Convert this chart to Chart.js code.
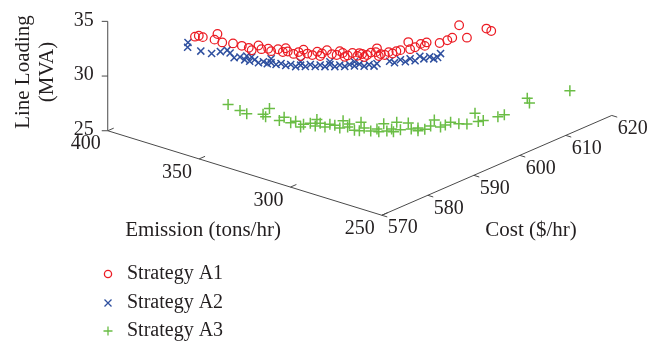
<!DOCTYPE html>
<html>
<head>
<meta charset="utf-8">
<script src="https://cdn.jsdelivr.net/npm/chart.js@4.4.1/dist/chart.umd.min.js"></script>
<style>
  body { margin: 0; background: #fff; }
  #caja { width: 653px; height: 347px; }
</style>
</head>
<body>
<div id="caja"><canvas id="grafica" width="653" height="347"></canvas></div>
<script>
// valores (emision ton/hr, costo $/hr, carga MVA)
var a1Emision = [372.4,370.3,368.1,362.6,364.2,362.5,356.6,354.3,350.5,347.7,346.1,344.9,343.3,339.5,339.4,336.7,333.5,333.3,330.6,328.5,328.3,325.6,323.0,322.8,320.1,317.5,316.7,314.0,313.9,311.2,311.1,308.4,306.3,305.5,306.1,303.4,301.2,301.6,299.5,297.4,297.7,293.4,292.4,292.2,291.6,289.4,288.4,283.8,282.1,279.4,284.7,276.4,273.8,271.9,337.8,348.9,318.3,310.1,332.2,324.0,315.6,310.0,304.5];
var a1Costo = [578,578,578,579,579,580,580,581,581,582,582,583,583,583,584,584,584,585,585,585,586,586,586,587,587,587,588,588,589,589,590,590,590,591,591,591,591,592,592,592,593,593,593,594,595,595,595,596,597,597,600.6,599,602.2,602.5,584,581,588,589,585,586,588,590,591];
var a1Carga = [33.56,33.75,33.74,34.13,33.53,33.18,33.39,33.11,33.12,33.30,33.04,32.96,32.82,33.19,32.76,32.95,32.89,32.89,33.25,33.00,32.69,33.14,33.11,33.24,33.02,33.07,33.11,33.03,33.07,32.95,32.94,32.99,33.32,33.57,33.19,33.15,33.18,33.24,33.22,33.54,33.44,34.40,33.80,33.80,33.96,33.89,34.26,34.26,34.42,34.78,35.00,34.58,34.96,34.78,33.19,32.98,33.20,33.26,32.59,32.83,32.82,32.73,32.92];

var a2Emision = [373.7,373.9,369.2,365.8,361.0,359.8,358.2,356.0,355.3,352.7,350.0,349.8,347.7,345.0,345.4,343.3,340.6,340.4,337.8,335.1,334.9,332.2,329.6,329.4,326.7,324.0,323.9,321.2,318.5,318.3,315.6,315.5,312.8,310.1,310.0,307.3,307.1,305.5,301.1,298.4,297.7,295.0,292.4,292.2,292.1,289.9,286.7,287.0,284.9,283.3,348.9,343.3,332.2,321.2,312.8,351.6];
var a2Costo = [577,577,578,579,579,580,580,580,581,581,581,582,582,582,583,583,583,584,584,584,585,585,585,586,586,586,587,587,587,588,588,589,589,589,590,590,591,591,592,592,593,593,593,594,595,595,595,596,596,596,581,583,585,587,589,581];
var a2Carga = [33.14,32.70,32.41,32.18,32.60,32.61,32.43,32.11,32.04,31.91,31.92,31.88,31.72,31.95,31.57,31.77,31.74,31.66,31.61,31.84,31.48,31.75,31.76,31.76,31.73,32.00,31.68,32.00,31.96,31.93,31.94,31.94,31.94,32.25,31.89,32.17,31.86,32.17,32.43,32.44,32.56,32.52,32.92,32.57,32.80,32.68,33.03,32.65,32.89,33.32,32.37,32.12,32.06,32.26,32.33,32.32];

var a3Emision = [359.3,355.3,351.6,345.2,343.8,344.2,338.8,338.7,335.1,334.9,330.6,329.4,325.8,326.7,323.9,321.2,318.5,316.5,314.0,312.8,309.2,310.0,306.4,305.5,301.8,302.6,300.0,297.2,297.7,293.4,294.3,290.6,289.4,286.2,286.7,283.3,283.2,280.3,278.3,274.5,272.7,272.5,267.0,266.0,261.0,259.8,255.3,332.2,318.3,310.1,304.5,299.0,290.6,276.4,324.0,315.5];
var a3Costo = [580,581,581,582,582,583,583,584,584,585,585,586,586,586,587,587,587,588,588,589,589,590,590,591,591,592,592,592,593,593,594,594,595,595,596,596,597,597,598,600,600,601,602,603,606,606,613,585,588,589,591,592,594,599,586,589];
var a3Carga = [27.67,27.15,27.05,27.14,26.98,27.54,26.71,26.83,26.52,26.48,26.42,26.41,26.92,26.29,26.16,26.56,26.59,26.94,26.49,26.08,26.99,26.24,26.14,26.20,26.86,25.97,26.30,27.06,26.16,26.99,26.23,26.51,26.26,26.74,27.08,26.61,26.61,27.02,26.79,27.59,26.93,26.84,27.30,27.34,28.57,28.19,28.25,26.10,26.18,26.16,25.99,26.10,26.25,26.68,26.69,26.50];

var ticksEmision = [400, 350, 300, 250];
var ticksCosto = [570, 580, 590, 600, 610, 620];
var ticksCarga = [25, 30, 35];

var estrategias = ['Strategy A1', 'Strategy A2', 'Strategy A3'];

var rojo = '#ec1c24';
var azul = '#2e4f9f';
var verde = '#6abd45';
var fuente = '"Liberation Serif", "Times New Roman", serif';
var colorTexto = '#231f20';

// vista 3D: esquina (250, 570, 25) y desplazamiento en pantalla por unidad de cada eje
function proyectar(e, c, z){
    return {
        x: 383 + (e - 250) * -1.867 + (c - 570) * 4.7,
        y: 217 + (e - 250) * -0.587 + (c - 570) * -2.08 + (z - 25) * -11.4
    };
}

function puntos(em, co, ca){
    var lista = [];
    for (var i = 0; i < em.length; i++){
        lista.push(proyectar(em[i], co[i], ca[i]));
    }
    return lista;
}

var ejes3d = {
    id: 'ejes3d',
    beforeDatasetsDraw: function(chart){
        var ctx = chart.ctx;
        var sx = chart.scales.x, sy = chart.scales.y;
        function px(p){ return [sx.getPixelForValue(p.x), sy.getPixelForValue(p.y)]; }
        function linea(a, b){
            var p = px(a), q = px(b);
            ctx.beginPath();
            ctx.moveTo(p[0], p[1]);
            ctx.lineTo(q[0], q[1]);
            ctx.stroke();
        }
        ctx.save();
        ctx.strokeStyle = '#4a4a4a';
        ctx.lineWidth = 1;
        linea(proyectar(400, 570, 25), proyectar(400, 570, 35));
        linea(proyectar(400, 570, 25), proyectar(250, 570, 25));
        linea(proyectar(250, 570, 25), proyectar(250, 620, 25));

        ticksCarga.forEach(function(z){
            var p = px(proyectar(400, 570, z));
            ctx.beginPath(); ctx.moveTo(p[0] - 6, p[1]); ctx.lineTo(p[0], p[1]); ctx.stroke();
        });
        ticksEmision.forEach(function(e){
            linea(proyectar(e, 570, 25), proyectar(e, 571.3, 25));
        });
        ticksCosto.forEach(function(c){
            linea(proyectar(250, c, 25), proyectar(247, c, 25));
        });
        ctx.restore();
    },
    afterDraw: function(chart){
        var ctx = chart.ctx;
        var sx = chart.scales.x, sy = chart.scales.y;
        function px(p){ return [sx.getPixelForValue(p.x), sy.getPixelForValue(p.y)]; }
        ctx.save();
        ctx.fillStyle = colorTexto;
        ctx.font = '20px ' + fuente;
        ctx.textBaseline = 'middle';

        ctx.textAlign = 'right';
        ticksCarga.forEach(function(z){
            var p = px(proyectar(400, 570, z));
            ctx.fillText(String(z), p[0] - 14, p[1] - 1);
        });
        ctx.textAlign = 'center';
        ticksEmision.forEach(function(e){
            var p = px(proyectar(e, 570, 25));
            ctx.fillText(String(e), p[0] - 22, p[1] + 13.5);
        });
        ticksCosto.forEach(function(c){
            var p = px(proyectar(250, c, 25));
            ctx.fillText(String(c), p[0] + 21, p[1] + 13);
        });

        ctx.font = '21px ' + fuente;
        ctx.fillText('Emission (tons/hr)', 203, 230);
        ctx.fillText('Cost ($/hr)', 531, 230);
        ctx.save();
        ctx.translate(23, 72);
        ctx.rotate(-Math.PI / 2);
        ctx.fillText('Line Loading', 0, 0);
        ctx.fillText('(MVA)', 0, 24);
        ctx.restore();

        // leyenda
        var ys = [274, 303, 331];
        ctx.font = '20px ' + fuente;
        ctx.textAlign = 'left';
        ctx.lineWidth = 1.3;
        // circulo
        ctx.strokeStyle = rojo;
        ctx.beginPath(); ctx.arc(108, ys[0], 3.6, 0, Math.PI * 2); ctx.stroke();
        // x
        ctx.strokeStyle = azul;
        ctx.beginPath();
        ctx.moveTo(104.5, ys[1] - 3.5); ctx.lineTo(111.5, ys[1] + 3.5);
        ctx.moveTo(111.5, ys[1] - 3.5); ctx.lineTo(104.5, ys[1] + 3.5);
        ctx.stroke();
        // +
        ctx.strokeStyle = verde;
        ctx.beginPath();
        ctx.moveTo(103.5, ys[2]); ctx.lineTo(112.5, ys[2]);
        ctx.moveTo(108, ys[2] - 4.5); ctx.lineTo(108, ys[2] + 4.5);
        ctx.stroke();
        for (var i = 0; i < estrategias.length; i++){
            ctx.fillText(estrategias[i], 127, ys[i]);
        }
        ctx.restore();
    }
};

var ctx = document.getElementById('grafica');
var chart = new Chart(ctx, {
    type: 'scatter',
    data: {
        datasets: [{
            label: estrategias[0],
            data: puntos(a1Emision, a1Costo, a1Carga),
            pointStyle: 'circle',
            pointRadius: 4.3,
            borderColor: rojo,
            backgroundColor: 'rgba(0,0,0,0)',
            borderWidth: 1.25
        }, {
            label: estrategias[1],
            data: puntos(a2Emision, a2Costo, a2Carga),
            pointStyle: 'crossRot',
            pointRadius: 5,
            borderColor: azul,
            backgroundColor: azul,
            borderWidth: 1.5
        }, {
            label: estrategias[2],
            data: puntos(a3Emision, a3Costo, a3Carga),
            pointStyle: 'cross',
            pointRadius: 5.5,
            borderColor: verde,
            backgroundColor: verde,
            borderWidth: 1.5
        }]
    },
    options: {
        responsive: false,
        animation: false,
        layout: { padding: 0 },
        plugins: {
            legend: { display: false },
            tooltip: { enabled: false }
        },
        scales: {
            x: { type: 'linear', min: 0, max: 653, display: false },
            y: { type: 'linear', min: 0, max: 347, reverse: true, display: false }
        }
    },
    plugins: [ejes3d]
});
</script>
</body>
</html>
